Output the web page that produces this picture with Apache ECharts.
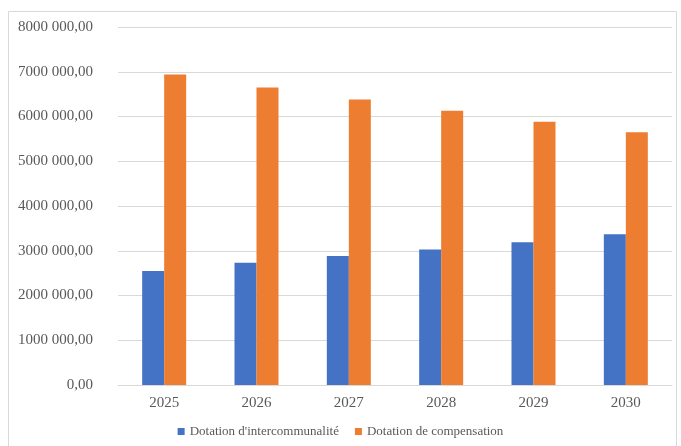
<!DOCTYPE html>
<html>
<head>
<meta charset="utf-8">
<script src="https://cdn.jsdelivr.net/npm/echarts@6/dist/echarts.min.js"></script>
<style>
  html, body { margin: 0; padding: 0; background: #fff; }
  #main { width: 681px; height: 446px; }
</style>
</head>
<body>
<div id="main"></div>
<script>
var years = ['2025', '2026', '2027', '2028', '2029', '2030'];
var intercommunalite = [2550000, 2730000, 2880000, 3030000, 3190000, 3370000];
var compensation = [6940000, 6650000, 6380000, 6130000, 5880000, 5650000];
var seriesNames = ["Dotation d'intercommunalité", 'Dotation de compensation'];

// format "8000 000,00"
function fmt(v) {
  if (v === 0) return '0,00';
  var s = String(Math.round(v));
  var head = s.slice(0, s.length - 3), tail = s.slice(s.length - 3);
  return head + ' ' + tail + ',00';
}

var font = 'Liberation Serif';
var myChart = echarts.init(document.getElementById('main'));
var option = {
  animation: false,
  backgroundColor: '#fff',
  graphic: [{
    type: 'rect',
    shape: { x: 8.5, y: 11.5, width: 668, height: 450 },
    style: { fill: 'none', stroke: '#d9d9d9', lineWidth: 1 },
    silent: true
  }],
  grid: { left: 118, right: 9, top: 27, bottom: 61 },
  legend: {
    bottom: 3,
    left: 'center',
    itemWidth: 7,
    itemHeight: 7,
    itemGap: 16,
    icon: 'rect',
    textStyle: { fontFamily: font, fontSize: 13, color: '#595959' },
    data: seriesNames
  },
  xAxis: {
    type: 'category',
    data: years,
    axisLine: { lineStyle: { color: '#d9d9d9' } },
    axisTick: { show: false },
    axisLabel: { fontFamily: font, fontSize: 15, color: '#595959', margin: 11 }
  },
  yAxis: {
    type: 'value',
    min: 0,
    max: 8000000,
    interval: 1000000,
    axisLine: { show: false },
    axisTick: { show: false },
    splitLine: { lineStyle: { color: '#d9d9d9' } },
    axisLabel: { fontFamily: font, fontSize: 15, color: '#595959', margin: 25, formatter: fmt }
  },
  series: [
    {
      name: seriesNames[0],
      type: 'bar',
      data: intercommunalite,
      barWidth: 22,
      barGap: '0%',
      itemStyle: { color: '#4472C4' }
    },
    {
      name: seriesNames[1],
      type: 'bar',
      data: compensation,
      barWidth: 22,
      barGap: '0%',
      itemStyle: { color: '#ED7D31' }
    }
  ]
};
myChart.setOption(option);
</script>
</body>
</html>
